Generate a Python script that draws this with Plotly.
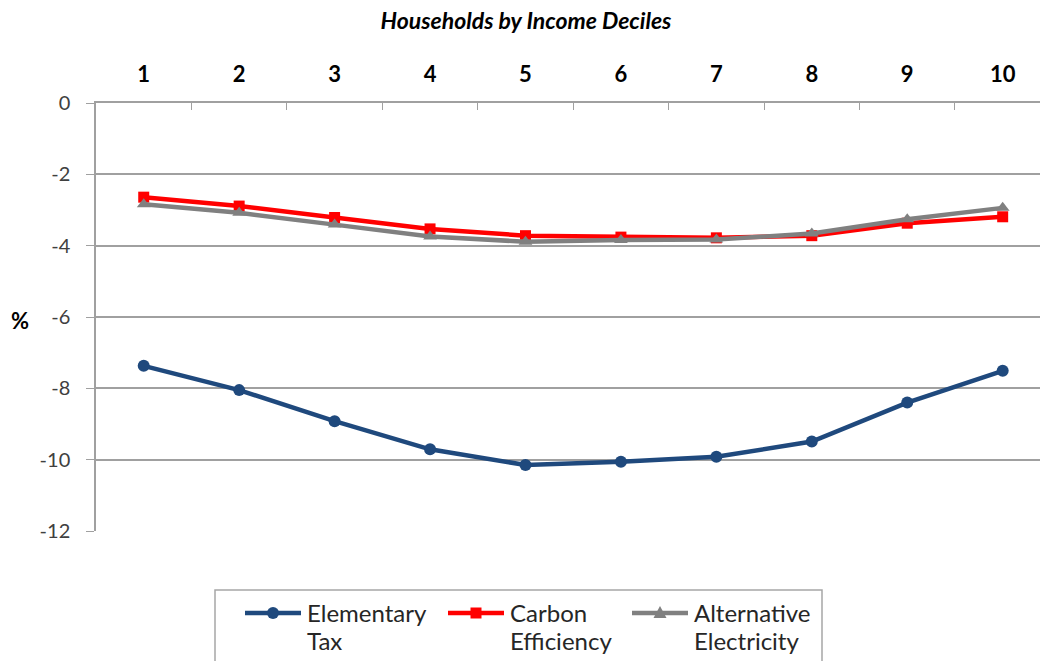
import plotly.graph_objects as go

deciles = ["1", "2", "3", "4", "5", "6", "7", "8", "9", "10"]
elementary_tax = [-7.37, -8.05, -8.92, -9.71, -10.15, -10.06, -9.92, -9.49, -8.40, -7.51]
carbon_efficiency = [-2.64, -2.89, -3.21, -3.53, -3.72, -3.76, -3.78, -3.72, -3.37, -3.19]
alternative_electricity = [-2.84, -3.08, -3.41, -3.74, -3.89, -3.84, -3.83, -3.66, -3.26, -2.94]
y_ticks = [0, -2, -4, -6, -8, -10, -12]
y_tick_labels = ["0", "-2", "-4", "-6", "-8", "-10", "-12"]

series_names = ["Elementary<br>Tax", "Carbon<br>Efficiency", "Alternative<br>Electricity"]
series_colors = ["#1F497D", "#FF0000", "#808080"]
series_symbols = ["circle", "square", "triangle-up"]

font_family = "Lato, 'Open Sans', sans-serif"

W, H = 1040, 661
M_L, M_R, M_T, M_B = 96, 0, 103, 130
PW, PH = W - M_L - M_R, H - M_T - M_B


def px_x(px):
    return (px - M_L) / PW


def px_y(py):
    return (H - M_B - py) / PH


fig = go.Figure()
for name, values, color, symbol in zip(
    series_names, [elementary_tax, carbon_efficiency, alternative_electricity],
    series_colors, series_symbols,
):
    fig.add_trace(go.Scatter(
        x=deciles, y=values, name=name, mode="lines+markers",
        line=dict(color=color, width=4.5),
        marker=dict(symbol=symbol, size=12 if symbol != "square" else 11, color=color),
        showlegend=False,
    ))

fig.update_layout(
    width=W, height=H,
    margin=dict(l=M_L, r=M_R, t=M_T, b=M_B, autoexpand=False),
    paper_bgcolor="white", plot_bgcolor="white",
    font=dict(family=font_family, color="#404040"),
    title=dict(
        text="<b><i>Households by Income Deciles</i></b>",
        x=526 / W, xref="container", xanchor="center",
        y=1 - 21 / H, yref="container", yanchor="middle",
        font=dict(size=23, color="black", family=font_family),
    ),
    showlegend=False,
)

fig.update_xaxes(
    type="category", side="top", range=[-0.5, 9.391],
    tickson="boundaries", ticks="inside", ticklen=7, tickcolor="#a0a0a0",
    showline=True, linecolor="#a0a0a0", linewidth=1.5,
    showgrid=False, zeroline=False,
    tickfont=dict(size=22, color="black", family=font_family, weight="bold"),
    ticklabelstandoff=10,
)
fig.update_yaxes(
    range=[-12, 0], tickvals=y_ticks, ticktext=y_tick_labels,
    ticks="outside", ticklen=8, tickcolor="#a0a0a0",
    showline=True, linecolor="#a0a0a0", linewidth=1.5,
    showgrid=True, gridcolor="#a0a0a0", gridwidth=1.5,
    zeroline=False,
    tickfont=dict(size=20, color="#404040", family=font_family),
    ticklabelstandoff=12,
)

fig.add_annotation(
    text="<b>%</b>", xref="paper", yref="paper",
    x=px_x(20), y=px_y(320), xanchor="center", yanchor="middle",
    showarrow=False, font=dict(size=22, color="black", family=font_family),
)

# Legend box drawn below the plot, running off the bottom edge
fig.add_shape(
    type="rect", xref="paper", yref="paper",
    x0=px_x(215), x1=px_x(822), y0=px_y(590), y1=px_y(680),
    line=dict(color="#a6a6a6", width=1.5), fillcolor="white", layer="above",
)

legend_starts = [245, 448, 632]
legend_row = 613
line_gap = 28
sym_len = 56
for start, name, color, symbol in zip(legend_starts, series_names, series_colors, series_symbols):
    fig.add_shape(
        type="line", xref="paper", yref="paper",
        x0=px_x(start), x1=px_x(start + sym_len), y0=px_y(legend_row), y1=px_y(legend_row),
        line=dict(color=color, width=4.5), layer="above",
    )
    cx, cy = start + sym_len / 2, legend_row
    if symbol == "circle":
        fig.add_shape(
            type="circle", xref="paper", yref="paper",
            x0=px_x(cx - 6), x1=px_x(cx + 6), y0=px_y(cy + 6), y1=px_y(cy - 6),
            line=dict(width=0), fillcolor=color, layer="above",
        )
    elif symbol == "square":
        fig.add_shape(
            type="rect", xref="paper", yref="paper",
            x0=px_x(cx - 5.5), x1=px_x(cx + 5.5), y0=px_y(cy + 5.5), y1=px_y(cy - 5.5),
            line=dict(width=0), fillcolor=color, layer="above",
        )
    else:
        pts = [(cx, cy - 7), (cx + 6.5, cy + 5), (cx - 6.5, cy + 5)]
        path = "M " + " L ".join(f"{px_x(a)},{px_y(b)}" for a, b in pts) + " Z"
        fig.add_shape(
            type="path", xref="paper", yref="paper", path=path,
            line=dict(width=0), fillcolor=color, layer="above",
        )
    for i, part in enumerate(name.split("<br>")):
        fig.add_annotation(
            text=part, xref="paper", yref="paper",
            x=px_x(start + sym_len + 4), y=px_y(legend_row - 1 + i * line_gap),
            xanchor="left", yanchor="middle", align="left", showarrow=False,
            font=dict(size=24, color="#262626", family=font_family),
        )

fig.write_html("out.html")
